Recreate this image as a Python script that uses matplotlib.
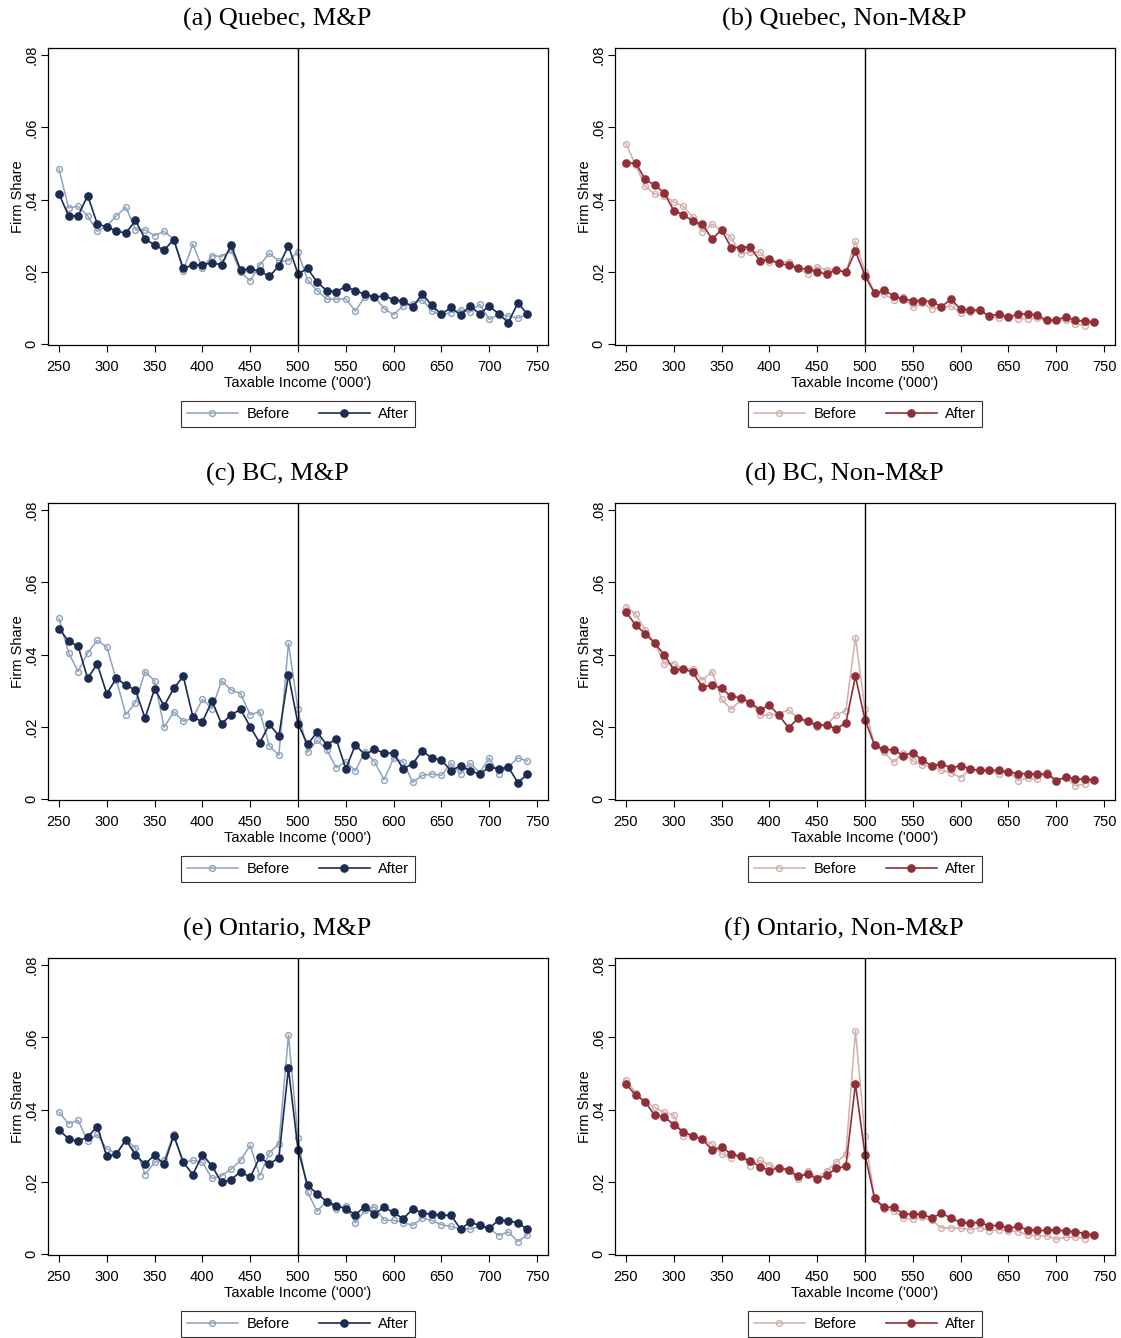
import numpy as np
import matplotlib.pyplot as plt

# Income bins (thousands)
bins = np.arange(250, 750, 10)

titles = ['(a) Quebec, M&P', '(b) Quebec, Non-M&P',
          '(c) BC, M&P', '(d) BC, Non-M&P',
          '(e) Ontario, M&P', '(f) Ontario, Non-M&P']

qc_mp_before = [0.0484, 0.0377, 0.0381, 0.0355, 0.0312, 0.0327, 0.0355, 0.0379, 0.0316, 0.0316,
                0.0300, 0.0312, 0.0290, 0.0203, 0.0277, 0.0209, 0.0245, 0.0242, 0.0260, 0.0198,
                0.0175, 0.0219, 0.0251, 0.0230, 0.0230, 0.0255, 0.0177, 0.0148, 0.0124, 0.0124,
                0.0125, 0.0091, 0.0131, 0.0131, 0.0098, 0.0081, 0.0106, 0.0111, 0.0122, 0.0091,
                0.0080, 0.0087, 0.0094, 0.0088, 0.0110, 0.0068, 0.0082, 0.0077, 0.0072, 0.0082]
qc_mp_after = [0.0416, 0.0355, 0.0355, 0.0411, 0.0333, 0.0324, 0.0313, 0.0307, 0.0342, 0.0291,
               0.0274, 0.0260, 0.0289, 0.0209, 0.0219, 0.0219, 0.0225, 0.0219, 0.0273, 0.0205,
               0.0207, 0.0202, 0.0187, 0.0216, 0.0272, 0.0194, 0.0209, 0.0171, 0.0148, 0.0145,
               0.0159, 0.0147, 0.0138, 0.0130, 0.0133, 0.0123, 0.0118, 0.0103, 0.0138, 0.0107,
               0.0082, 0.0101, 0.0080, 0.0105, 0.0083, 0.0105, 0.0083, 0.0059, 0.0114, 0.0082]

qc_nmp_before = [0.0555, 0.0496, 0.0437, 0.0415, 0.0410, 0.0394, 0.0381, 0.0351, 0.0310, 0.0332,
                 0.0315, 0.0295, 0.0249, 0.0254, 0.0255, 0.0227, 0.0226, 0.0228, 0.0210, 0.0193,
                 0.0214, 0.0205, 0.0206, 0.0198, 0.0285, 0.0200, 0.0143, 0.0138, 0.0122, 0.0130,
                 0.0101, 0.0112, 0.0098, 0.0101, 0.0105, 0.0087, 0.0088, 0.0092, 0.0075, 0.0072,
                 0.0077, 0.0070, 0.0070, 0.0071, 0.0065, 0.0066, 0.0066, 0.0055, 0.0051, 0.0061]
qc_nmp_after = [0.0500, 0.0502, 0.0456, 0.0440, 0.0419, 0.0369, 0.0358, 0.0340, 0.0331, 0.0291,
                0.0316, 0.0267, 0.0267, 0.0269, 0.0230, 0.0234, 0.0224, 0.0218, 0.0210, 0.0207,
                0.0200, 0.0193, 0.0206, 0.0198, 0.0257, 0.0189, 0.0140, 0.0149, 0.0133, 0.0124,
                0.0120, 0.0120, 0.0117, 0.0103, 0.0124, 0.0096, 0.0094, 0.0094, 0.0077, 0.0083,
                0.0074, 0.0083, 0.0083, 0.0080, 0.0065, 0.0066, 0.0075, 0.0065, 0.0063, 0.0061]

bc_mp_before = [0.0500, 0.0405, 0.0353, 0.0405, 0.0439, 0.0421, 0.0330, 0.0233, 0.0267, 0.0353,
                0.0327, 0.0198, 0.0242, 0.0215, 0.0224, 0.0276, 0.0250, 0.0327, 0.0302, 0.0292,
                0.0233, 0.0242, 0.0147, 0.0121, 0.0432, 0.0248, 0.0129, 0.0163, 0.0136, 0.0087,
                0.0103, 0.0078, 0.0131, 0.0103, 0.0053, 0.0113, 0.0103, 0.0046, 0.0065, 0.0069,
                0.0065, 0.0099, 0.0069, 0.0099, 0.0073, 0.0113, 0.0069, 0.0088, 0.0114, 0.0105]
bc_mp_after = [0.0472, 0.0437, 0.0423, 0.0334, 0.0374, 0.0291, 0.0335, 0.0315, 0.0302, 0.0224,
               0.0305, 0.0258, 0.0306, 0.0340, 0.0228, 0.0213, 0.0272, 0.0208, 0.0233, 0.0248,
               0.0200, 0.0155, 0.0207, 0.0175, 0.0344, 0.0208, 0.0151, 0.0185, 0.0150, 0.0166,
               0.0083, 0.0150, 0.0122, 0.0138, 0.0127, 0.0127, 0.0083, 0.0098, 0.0133, 0.0113,
               0.0108, 0.0078, 0.0092, 0.0078, 0.0069, 0.0088, 0.0083, 0.0088, 0.0045, 0.0069]

bc_nmp_before = [0.0533, 0.0513, 0.0469, 0.0433, 0.0374, 0.0375, 0.0360, 0.0360, 0.0329, 0.0353,
                 0.0276, 0.0248, 0.0274, 0.0269, 0.0232, 0.0232, 0.0236, 0.0247, 0.0223, 0.0212,
                 0.0200, 0.0207, 0.0232, 0.0245, 0.0447, 0.0250, 0.0149, 0.0129, 0.0102, 0.0128,
                 0.0105, 0.0093, 0.0091, 0.0079, 0.0072, 0.0059, 0.0081, 0.0077, 0.0077, 0.0070,
                 0.0076, 0.0051, 0.0058, 0.0054, 0.0074, 0.0051, 0.0060, 0.0036, 0.0042, 0.0052]
bc_nmp_after = [0.0518, 0.0482, 0.0458, 0.0432, 0.0399, 0.0358, 0.0360, 0.0351, 0.0309, 0.0317,
                0.0306, 0.0284, 0.0280, 0.0267, 0.0247, 0.0259, 0.0232, 0.0197, 0.0223, 0.0216,
                0.0204, 0.0205, 0.0194, 0.0211, 0.0340, 0.0219, 0.0149, 0.0137, 0.0136, 0.0120,
                0.0128, 0.0107, 0.0092, 0.0097, 0.0086, 0.0092, 0.0083, 0.0079, 0.0079, 0.0079,
                0.0075, 0.0070, 0.0070, 0.0069, 0.0070, 0.0051, 0.0060, 0.0056, 0.0054, 0.0053]

on_mp_before = [0.0393, 0.0361, 0.0370, 0.0313, 0.0331, 0.0291, 0.0279, 0.0316, 0.0294, 0.0220,
                0.0254, 0.0259, 0.0333, 0.0254, 0.0259, 0.0254, 0.0209, 0.0216, 0.0235, 0.0259,
                0.0301, 0.0216, 0.0280, 0.0305, 0.0607, 0.0322, 0.0171, 0.0118, 0.0148, 0.0125,
                0.0133, 0.0086, 0.0121, 0.0131, 0.0093, 0.0093, 0.0087, 0.0079, 0.0100, 0.0093,
                0.0081, 0.0076, 0.0069, 0.0069, 0.0076, 0.0071, 0.0051, 0.0061, 0.0034, 0.0053]
on_mp_after = [0.0344, 0.0319, 0.0312, 0.0324, 0.0353, 0.0270, 0.0277, 0.0316, 0.0274, 0.0249,
               0.0274, 0.0248, 0.0328, 0.0254, 0.0220, 0.0275, 0.0244, 0.0198, 0.0206, 0.0228,
               0.0212, 0.0268, 0.0249, 0.0267, 0.0514, 0.0289, 0.0190, 0.0167, 0.0145, 0.0134,
               0.0125, 0.0109, 0.0131, 0.0111, 0.0129, 0.0115, 0.0097, 0.0125, 0.0113, 0.0110,
               0.0107, 0.0107, 0.0069, 0.0088, 0.0079, 0.0071, 0.0094, 0.0092, 0.0086, 0.0068]

on_nmp_before = [0.0482, 0.0447, 0.0421, 0.0406, 0.0392, 0.0385, 0.0326, 0.0328, 0.0316, 0.0305,
                 0.0277, 0.0265, 0.0273, 0.0245, 0.0259, 0.0247, 0.0234, 0.0231, 0.0207, 0.0231,
                 0.0210, 0.0231, 0.0254, 0.0277, 0.0619, 0.0326, 0.0152, 0.0124, 0.0120, 0.0100,
                 0.0096, 0.0101, 0.0093, 0.0072, 0.0072, 0.0071, 0.0067, 0.0073, 0.0064, 0.0067,
                 0.0064, 0.0062, 0.0053, 0.0050, 0.0050, 0.0041, 0.0046, 0.0047, 0.0042, 0.0053]
on_nmp_after = [0.0471, 0.0440, 0.0422, 0.0384, 0.0380, 0.0358, 0.0338, 0.0327, 0.0318, 0.0288,
                0.0296, 0.0277, 0.0270, 0.0257, 0.0242, 0.0231, 0.0239, 0.0233, 0.0215, 0.0221,
                0.0208, 0.0218, 0.0237, 0.0243, 0.0471, 0.0275, 0.0154, 0.0129, 0.0129, 0.0111,
                0.0110, 0.0110, 0.0099, 0.0113, 0.0099, 0.0088, 0.0085, 0.0088, 0.0077, 0.0080,
                0.0071, 0.0076, 0.0067, 0.0065, 0.0065, 0.0067, 0.0063, 0.0062, 0.0056, 0.0053]

panels = [(qc_mp_before, qc_mp_after), (qc_nmp_before, qc_nmp_after),
          (bc_mp_before, bc_mp_after), (bc_nmp_before, bc_nmp_after),
          (on_mp_before, on_mp_after), (on_nmp_before, on_nmp_after)]

# Colours: M&P in blues, Non-M&P in reds
mp_colors = ('#8ea3bb', '#1c2b52')
nmp_colors = ('#d1aeab', '#912f38')

plt.rcParams['font.family'] = 'Liberation Sans'

W, H = 1121, 1338
fig = plt.figure(figsize=(W / 100, H / 100), dpi=100)

lefts = [48, 615]
tops = [48, 503, 958]
ax_w, ax_h = 500, 297

for i, (before, after) in enumerate(panels):
    row, col = divmod(i, 2)
    x0, y0 = lefts[col], tops[row]
    ax = fig.add_axes([x0 / W, 1 - (y0 + ax_h) / H, ax_w / W, ax_h / H])
    light, dark = mp_colors if col == 0 else nmp_colors

    ax.plot(bins, before, color=light, lw=1.1, marker='o', ms=4.2,
            mfc='none', mec=light, mew=1.0, label='Before')
    ax.plot(bins, after, color=dark, lw=1.2, marker='o', ms=5.2,
            mfc=dark, mec=dark, label='After')
    ax.axvline(500, color='black', lw=1.0)

    ax.set_xlim(238.5, 761.5)
    ax.set_ylim(-0.0003, 0.082)
    ax.set_xticks(np.arange(250, 751, 50))
    ax.set_yticks([0, 0.02, 0.04, 0.06, 0.08])
    ax.set_yticklabels(['0', '.02', '.04', '.06', '.08'], rotation=90, va='center')
    ax.tick_params(axis='x', labelsize=10.5, length=5, width=0.8, pad=6)
    ax.tick_params(axis='y', labelsize=10.5, length=5, width=0.8, pad=2)
    for s in ax.spines.values():
        s.set_linewidth(0.9)
        s.set_color('black')

    ax.set_xlabel("Taxable Income ('000')", fontsize=10.5, labelpad=1)
    ax.set_ylabel('Firm Share', fontsize=10.5, labelpad=-0.5)

    # title centred over the whole panel (axes plus y label area)
    cx = (x0 + ax_w / 2 - 21) / W
    cy = 1 - (y0 - 29) / H
    fig.text(cx, cy, titles[i], fontsize=19, family='Liberation Serif',
             ha='center', va='center')

    leg = ax.legend(loc='upper center', bbox_to_anchor=(0.5, -0.165), ncol=2,
                    fontsize=10.5, frameon=True, fancybox=False, edgecolor='black',
                    handlelength=3.5, columnspacing=2.0, borderpad=0.4,
                    handletextpad=0.6)
    leg.get_frame().set_linewidth(0.8)

fig.savefig('out.png', dpi=100, facecolor='white')
